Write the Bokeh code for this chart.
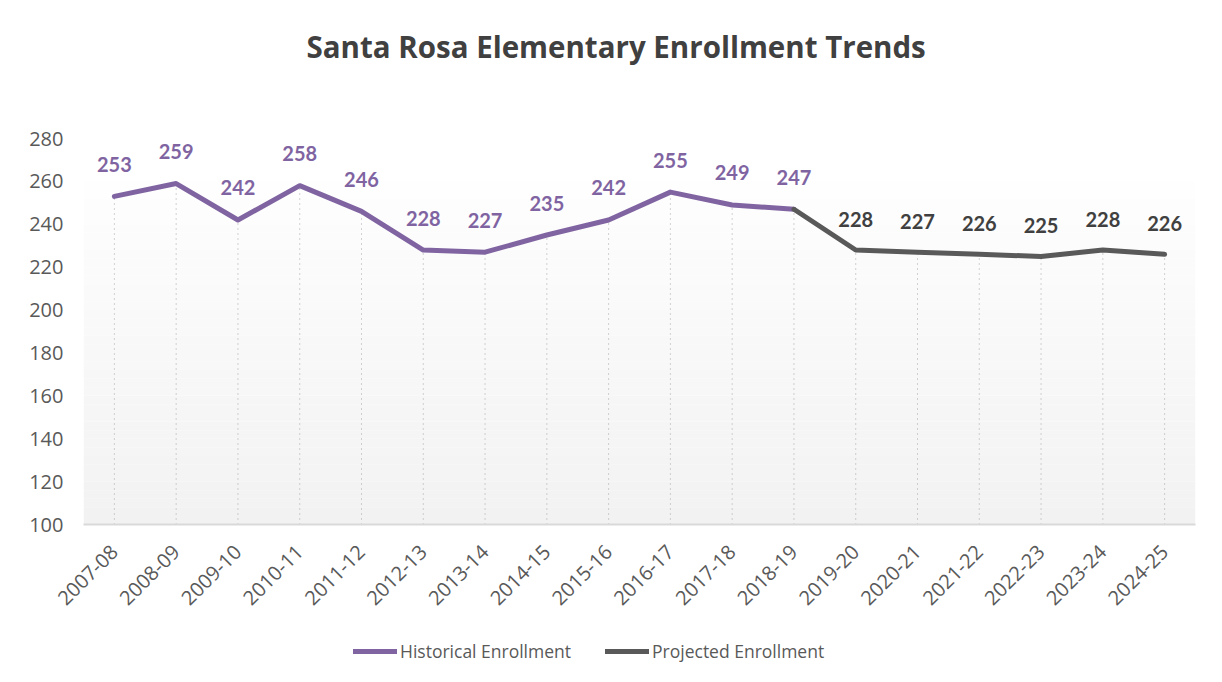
import math
from bokeh.plotting import figure
from bokeh.layouts import column
from bokeh.models import (FixedTicker, BoxAnnotation, Legend, LegendItem,
                          Range1d, FactorRange, Title)
from bokeh.core.properties import value
from bokeh.embed import file_html
from bokeh.resources import INLINE

# ---- data ----
years = ["2007-08", "2008-09", "2009-10", "2010-11", "2011-12", "2012-13",
         "2013-14", "2014-15", "2015-16", "2016-17", "2017-18", "2018-19",
         "2019-20", "2020-21", "2021-22", "2022-23", "2023-24", "2024-25"]
historical = [253, 259, 242, 258, 246, 228, 227, 235, 242, 255, 249, 247]
projected = [228, 227, 226, 225, 228, 226]
y_ticks = [100, 120, 140, 160, 180, 200, 220, 240, 260, 280]
series_names = ["Historical Enrollment", "Projected Enrollment"]

n_hist = len(historical)
hist_years = years[:n_hist]
proj_years = years[n_hist:]
proj_line_years = [hist_years[-1]] + proj_years
proj_line_values = [historical[-1]] + projected
all_values = historical + projected
y_min, y_max = y_ticks[0], y_ticks[-1]

PURPLE = "#8064A2"
GRAY_LINE = "#595959"
GRAY_LABEL = "#404040"
TEXT = "#595959"
FONT = "Open Sans"
LFONT = "Lato"

p = figure(width=1222, height=620, x_range=FactorRange(*years),
           y_range=Range1d(y_min, y_max), output_backend="svg",
           toolbar_location=None, min_border_left=83, min_border_right=27,
           min_border_top=138, min_border_bottom=96,
           title="Santa Rosa Elementary Enrollment Trends")
p.outline_line_color = None
p.background_fill_color = "white"
p.border_fill_color = "white"

p.title.align = "left"
p.title.vertical_align = "top"
p.title.offset = 223
p.title.standoff = 0
p.title.text_font = FONT
p.title.text_font_size = "29.5px"
p.title.text_font_style = "bold"
p.title.text_color = GRAY_LABEL
# spacer between title and plot area
p.add_layout(Title(text=" ", text_font_size="1px", standoff=67), "above")

# gradient plot-area background
nb = 40
top_val = 260
for i in range(nb):
    b = y_min + (top_val - y_min) * i / nb
    t = y_min + (top_val - y_min) * (i + 1) / nb
    frac = (i + 0.5) / nb
    c = int(round(242 + (254 - 242) * frac))
    p.add_layout(BoxAnnotation(bottom=b, top=t, fill_color=(c, c, c),
                               fill_alpha=1, line_color=None, level="underlay"))

p.xgrid.grid_line_color = None
p.ygrid.grid_line_color = None

# axes
p.yaxis.ticker = FixedTicker(ticks=y_ticks)
p.yaxis.axis_line_color = None
p.yaxis.major_tick_line_color = None
p.yaxis.minor_tick_line_color = None
p.yaxis.major_tick_out = 0
p.yaxis.major_label_standoff = 20
p.yaxis.major_label_text_font = FONT
p.yaxis.major_label_text_font_size = "20px"
p.yaxis.major_label_text_color = TEXT

p.xaxis.axis_line_color = "#d9d9d9"
p.xaxis.axis_line_width = 2
p.xaxis.major_tick_line_color = None
p.xaxis.minor_tick_line_color = None
p.xaxis.major_tick_out = 0
p.xaxis.major_label_standoff = 24
p.xaxis.major_label_orientation = math.pi / 4
p.xaxis.major_label_text_font = FONT
p.xaxis.major_label_text_font_size = "20px"
p.xaxis.major_label_text_color = TEXT

# drop lines
p.segment(x0=years, y0=[y_min] * len(years), x1=years, y1=all_values,
          line_color="#a6a6a6", line_width=1, line_dash="1 4")

# lines
p.line(hist_years, historical, line_color=PURPLE, line_width=5,
       line_cap="round", line_join="round")
p.line(proj_line_years, proj_line_values, line_color=GRAY_LINE,
       line_width=5, line_cap="round", line_join="round")

# data labels
p.text(x=hist_years, y=historical, text=[str(v) for v in historical],
       text_align="center", text_baseline="middle", y_offset=-32,
       text_font=value(LFONT), text_font_style="bold", text_font_size="20px",
       text_color=PURPLE)
p.text(x=proj_years, y=projected, text=[str(v) for v in projected],
       text_align="center", text_baseline="middle", y_offset=-31,
       text_font=value(LFONT), text_font_style="bold", text_font_size="20px",
       text_color=GRAY_LABEL)

# ---- legend strip below the chart ----
q = figure(width=1222, height=62, x_range=p.x_range, y_range=Range1d(0, 1),
           output_backend="svg", toolbar_location=None,
           x_axis_type=None, y_axis_type=None,
           min_border_left=0, min_border_right=0, min_border_top=0,
           min_border_bottom=0)
q.outline_line_color = None
q.xgrid.grid_line_color = None
q.ygrid.grid_line_color = None
q.background_fill_color = "white"
q.border_fill_color = "white"
# same series, outside this strip's visible range: only their legend keys show
lh = q.line(hist_years, historical, line_color=PURPLE, line_width=5,
            line_cap="round")
lp = q.line(proj_line_years, proj_line_values, line_color=GRAY_LINE,
            line_width=5, line_cap="round")
legend = Legend(items=[LegendItem(label=series_names[0], renderers=[lh]),
                       LegendItem(label=series_names[1], renderers=[lp])],
                orientation="horizontal", location=(270, 19), padding=0,
                margin=0, spacing=34, glyph_width=44, label_standoff=3,
                border_line_color=None, background_fill_alpha=0,
                label_text_font=FONT, label_text_font_size="17.5px",
                label_text_color=TEXT)
q.add_layout(legend)

layout = column(p, q, spacing=0)
open("out.html", "w").write(file_html(layout, INLINE))
